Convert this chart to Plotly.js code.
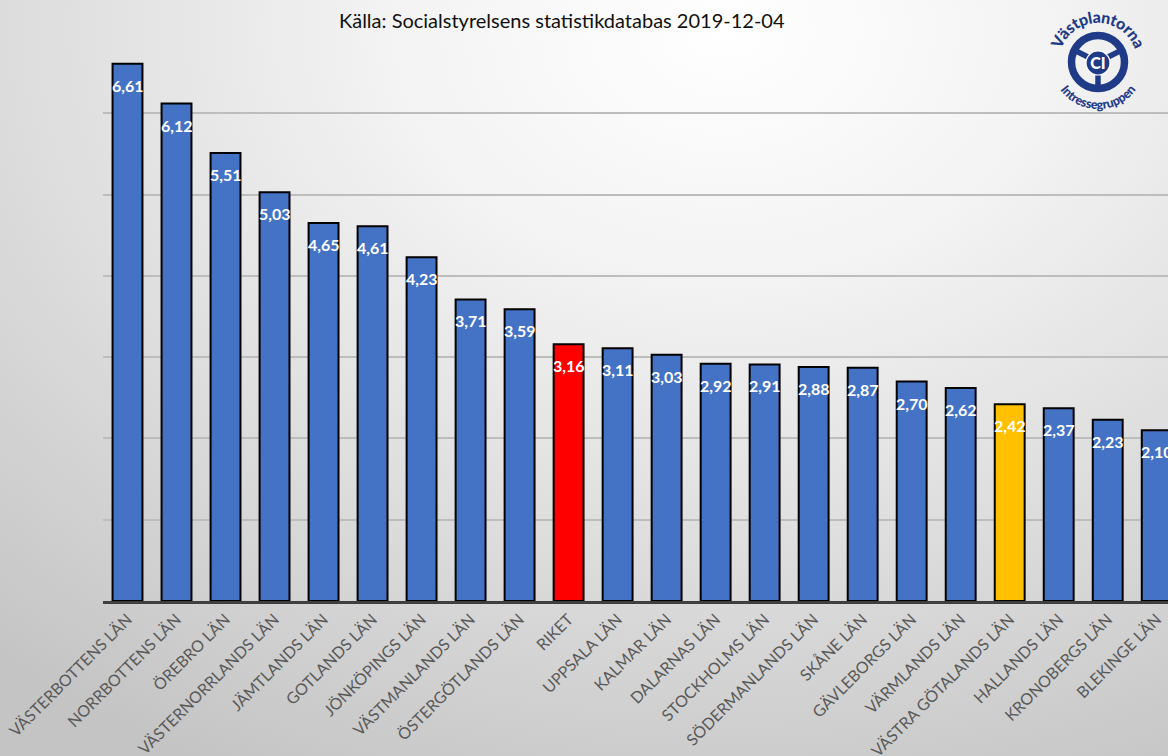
<!DOCTYPE html>
<html>
<head>
<meta charset="utf-8">
<script src="https://cdn.plot.ly/plotly-3.0.1.min.js"></script>
<style>
  html, body { margin: 0; padding: 0; }
  #wrap {
    position: relative; width: 1168px; height: 756px; overflow: hidden;
    background: radial-gradient(ellipse 95% 110% at 62% 4%, #ffffff 0%, #f3f3f3 30%, #dcdcdc 65%, #c4c4c4 100%);
  }
  #chart { position: absolute; left: 0; top: 0; width: 1168px; height: 756px; }
  #logo { position: absolute; left: 0; top: 0; pointer-events: none; }
</style>
</head>
<body>
<div id="wrap">
  <div id="chart"></div>
  <svg id="logo" width="1168" height="756" xmlns="http://www.w3.org/2000/svg">
    <defs>
      <path id="arcTop" d="M 1062.7 78.5 A 39 39 0 1 1 1133.3 78.5" fill="none"/>
      <path id="arcBot" d="M 1056.5 84.1 A 47 47 0 0 0 1139.5 84.1" fill="none"/>
    </defs>
    <g fill="none" stroke="#1f3b87">
      <circle cx="1098" cy="62" r="26.5" stroke-width="7.5"/>
      <line x1="1098" y1="62" x2="1074" y2="50" stroke-width="5.5"/>
      <line x1="1098" y1="62" x2="1122" y2="50" stroke-width="5.5"/>
      <line x1="1098" y1="62" x2="1098" y2="88" stroke-width="5.5"/>
    </g>
    <circle cx="1098" cy="63" r="12" fill="#1f3b87" stroke="#ffffff" stroke-width="1.2"/>
    <text x="1098" y="69" text-anchor="middle" font-family="Lato, sans-serif" font-weight="900" font-size="16" fill="#ffffff">CI</text>
    <text font-family="Lato, sans-serif" font-weight="900" font-size="16" fill="#1f3b87" letter-spacing="-0.3">
      <textPath href="#arcTop" startOffset="50%" text-anchor="middle">Västplantorna</textPath>
    </text>
    <text font-family="Lato, sans-serif" font-weight="900" font-size="12.5" fill="#1f3b87" letter-spacing="-0.2">
      <textPath href="#arcBot" startOffset="50%" text-anchor="middle">Intressegruppen</textPath>
    </text>
  </svg>
</div>
<script>
const categories = [
  "VÄSTERBOTTENS LÄN", "NORRBOTTENS LÄN", "ÖREBRO LÄN", "VÄSTERNORRLANDS LÄN",
  "JÄMTLANDS LÄN", "GOTLANDS LÄN", "JÖNKÖPINGS LÄN", "VÄSTMANLANDS LÄN",
  "ÖSTERGÖTLANDS LÄN", "RIKET", "UPPSALA LÄN", "KALMAR LÄN", "DALARNAS LÄN",
  "STOCKHOLMS LÄN", "SÖDERMANLANDS LÄN", "SKÅNE LÄN", "GÄVLEBORGS LÄN",
  "VÄRMLANDS LÄN", "VÄSTRA GÖTALANDS LÄN", "HALLANDS LÄN", "KRONOBERGS LÄN", "BLEKINGE LÄN"
];
const values = [6.61, 6.12, 5.51, 5.03, 4.65, 4.61, 4.23, 3.71, 3.59, 3.16, 3.11,
                3.03, 2.92, 2.91, 2.88, 2.87, 2.70, 2.62, 2.42, 2.37, 2.23, 2.10];
const subtitle = "Källa: Socialstyrelsens statistikdatabas 2019-12-04";

const highlight = { "RIKET": "#ff0000", "VÄSTRA GÖTALANDS LÄN": "#ffc000" };
const barColors = categories.map(c => highlight[c] || "#4472c4");
const labels = values.map(v => v.toFixed(2).replace(".", ","));

const trace = {
  type: "bar",
  x: categories,
  y: values,
  marker: { color: barColors, line: { color: "#000000", width: 2 } },
  hoverinfo: "x+y"
};

const annotations = categories.map((c, i) => ({
  x: c, y: values[i], xref: "x", yref: "y",
  text: "<b>" + labels[i] + "</b>",
  showarrow: false, yanchor: "top", yshift: -10,
  font: { family: "Lato, sans-serif", size: 16, color: "#ffffff" }
}));
annotations.push({
  xref: "paper", yref: "paper", x: 0.431, y: 1, yanchor: "bottom", yshift: -2,
  text: subtitle, showarrow: false,
  font: { family: "Lato, sans-serif", size: 20, color: "#111111" }
});

const layout = {
  width: 1168, height: 756,
  margin: { l: 103, r: 0, t: 32, b: 155 },
  paper_bgcolor: "rgba(0,0,0,0)",
  plot_bgcolor: "rgba(0,0,0,0)",
  showlegend: false,
  bargap: 0.39,
  xaxis: {
    range: [-0.5, 21.23],
    tickangle: -45,
    tickfont: { family: "Lato, sans-serif", size: 16, color: "#595959" },
    showline: true, linecolor: "#3f3f3f", linewidth: 2.5,
    ticks: "", showgrid: false, zeroline: false
  },
  yaxis: {
    range: [0, 7], dtick: 1,
    showticklabels: false, ticks: "",
    showgrid: true, gridcolor: "#bdbdbd", gridwidth: 1.5,
    zeroline: false, showline: false
  },
  annotations: annotations
};

Plotly.newPlot("chart", [trace], layout, { displayModeBar: false, responsive: false });
</script>
</body>
</html>
